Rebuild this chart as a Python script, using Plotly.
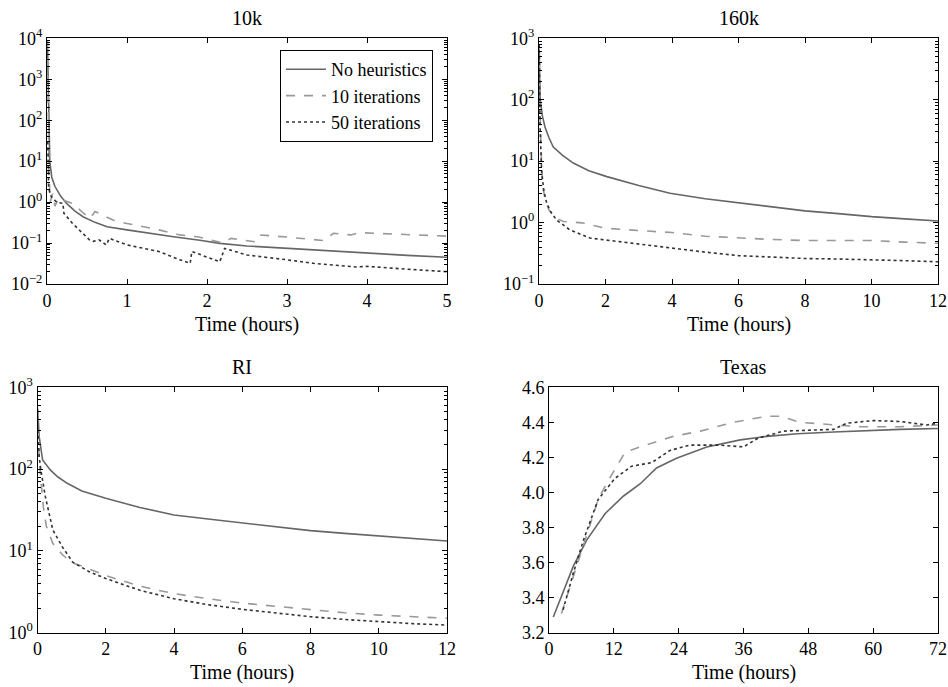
import plotly.graph_objects as go

# ---------------- data ----------------
series_names = ["No heuristics", "10 iterations", "50 iterations"]

# 10k
k10_none_x = [0.005, 0.015, 0.025, 0.035, 0.06, 0.1, 0.17, 0.245, 0.35, 0.45, 0.6, 0.75, 1.0, 1.3, 1.58, 1.91, 2.16, 2.5, 3.0, 3.5, 4.0, 4.5, 5.0]
k10_none_y = [9000, 500, 40, 9.8, 4.0, 2.4, 1.4, 0.93, 0.6, 0.44, 0.32, 0.25, 0.21, 0.17, 0.143, 0.117, 0.098, 0.085, 0.074, 0.064, 0.056, 0.05, 0.045]
k10_h10_x = [0.005, 0.015, 0.025, 0.04, 0.07, 0.1, 0.15, 0.2, 0.32, 0.45, 0.54, 0.6, 0.7, 0.83, 1.0, 1.4, 1.66, 1.9, 2.2, 2.3, 2.6, 2.66, 3.0, 3.46, 3.58, 3.8, 3.9, 4.3, 5.0]
k10_h10_y = [9000, 300, 5, 1.0, 1.6, 0.8, 1.3, 1.12, 0.93, 0.55, 0.4, 0.59, 0.48, 0.36, 0.3, 0.21, 0.158, 0.14, 0.1, 0.13, 0.107, 0.158, 0.14, 0.115, 0.173, 0.158, 0.18, 0.165, 0.147]
k10_h50_x = [0.01, 0.02, 0.04, 0.07, 0.12, 0.2, 0.21, 0.32, 0.45, 0.53, 0.58, 0.65, 0.74, 0.78, 1.0, 1.4, 1.66, 1.79, 1.81, 2.16, 2.22, 2.5, 3.0, 3.33, 3.87, 4.0, 4.5, 5.0]
k10_h50_y = [30, 2.4, 1.5, 1.24, 1.0, 0.93, 0.54, 0.3, 0.17, 0.12, 0.11, 0.12, 0.09, 0.13, 0.09, 0.062, 0.039, 0.032, 0.062, 0.035, 0.074, 0.051, 0.039, 0.032, 0.026, 0.027, 0.023, 0.02]

# 160k
k160_none_x = [0.005, 0.03, 0.1, 0.18, 0.3, 0.43, 0.7, 1.03, 1.5, 2.04, 3.0, 3.94, 5.0, 6.0, 7.0, 8.0, 9.0, 10.0, 11.0, 12.0]
k160_none_y = [800, 110, 55, 36, 24, 17, 12.5, 9.3, 7.0, 5.6, 4.0, 3.0, 2.45, 2.1, 1.8, 1.55, 1.4, 1.25, 1.15, 1.06]
k160_h10_x = [0.005, 0.03, 0.08, 0.13, 0.2, 0.3, 0.5, 0.73, 1.3, 2.0, 3.0, 4.0, 5.0, 6.0, 7.0, 8.0, 9.0, 10.0, 11.0, 12.0]
k160_h10_y = [800, 60, 8, 3.4, 2.2, 1.6, 1.2, 1.04, 0.99, 0.81, 0.74, 0.69, 0.6, 0.56, 0.53, 0.51, 0.51, 0.51, 0.48, 0.46]
k160_h50_x = [0.005, 0.03, 0.08, 0.15, 0.23, 0.35, 0.53, 0.93, 1.53, 2.0, 3.0, 4.0, 5.0, 6.0, 7.0, 8.0, 9.0, 10.0, 11.0, 12.0]
k160_h50_y = [800, 40, 6.4, 3.2, 2.1, 1.5, 1.1, 0.76, 0.56, 0.52, 0.44, 0.38, 0.33, 0.29, 0.275, 0.26, 0.255, 0.25, 0.24, 0.23]

# RI
ri_none_x = [0.005, 0.05, 0.15, 0.38, 0.6, 0.87, 1.3, 2.0, 3.0, 4.0, 5.0, 6.0, 7.0, 8.0, 9.0, 10.0, 11.0, 12.0]
ri_none_y = [550, 247, 129, 97, 80, 67, 54, 44, 34, 27.5, 24.5, 22, 19.8, 17.7, 16.4, 15.2, 14.2, 13.2]
ri_h10_x = [0.005, 0.05, 0.1, 0.17, 0.26, 0.45, 0.74, 1.0, 1.23, 2.0, 3.0, 4.0, 5.0, 6.0, 7.0, 8.0, 9.0, 10.0, 11.0, 12.0]
ri_h10_y = [500, 130, 73, 35, 20, 12.3, 8.9, 7.2, 6.7, 5.0, 3.7, 3.0, 2.6, 2.3, 2.1, 1.9, 1.75, 1.64, 1.57, 1.5]
ri_h50_x = [0.005, 0.05, 0.1, 0.23, 0.45, 0.74, 1.03, 1.5, 2.0, 3.0, 4.0, 5.0, 6.0, 7.0, 8.0, 9.0, 10.0, 11.0, 12.0]
ri_h50_y = [300, 140, 97, 46, 18, 11, 7.3, 5.6, 4.6, 3.3, 2.6, 2.2, 1.93, 1.73, 1.57, 1.45, 1.36, 1.29, 1.24]

# Texas
tx_none_x = [0.8, 4.5, 7.0, 10.4, 13.8, 16.9, 19.9, 23.6, 29.2, 35.4, 40.3, 46.0, 52.7, 59.4, 65.0, 72.0]
tx_none_y = [3.29, 3.58, 3.73, 3.88, 3.98, 4.05, 4.14, 4.195, 4.26, 4.30, 4.32, 4.335, 4.345, 4.355, 4.36, 4.365]
tx_h10_x = [2.3, 4.5, 7.0, 9.1, 11.0, 14.1, 16.9, 23.0, 28.0, 34.1, 40.3, 42.8, 46.5, 52.7, 57.6, 65.0, 72.0]
tx_h10_y = [3.31, 3.52, 3.75, 3.96, 4.07, 4.23, 4.26, 4.32, 4.35, 4.40, 4.435, 4.435, 4.40, 4.385, 4.375, 4.375, 4.385]
tx_h50_x = [2.6, 4.5, 6.4, 9.1, 12.2, 15.3, 19.0, 22.4, 26.1, 31.6, 36.0, 38.7, 43.4, 52.7, 55.1, 60.0, 65.0, 69.9, 72.0]
tx_h50_y = [3.33, 3.54, 3.73, 3.96, 4.08, 4.15, 4.17, 4.24, 4.27, 4.27, 4.26, 4.31, 4.35, 4.36, 4.395, 4.41, 4.405, 4.385, 4.395]

panel_titles = ["10k", "160k", "RI", "Texas"]
x_title = "Time (hours)"

# ---------------- styling ----------------
W, H = 948, 687
FONT = "Liberation Serif"
TICK_SIZE = 18
TITLE_SIZE = 20
styles = [
    dict(color="#666666", width=1.6, dash="solid"),
    dict(color="#999999", width=1.6, dash="dash"),
    dict(color="#333333", width=1.6, dash="dot"),
]

# plot boxes in window pixels: (left, right, top, bottom)
boxes = [
    (47, 447, 38.3, 284),
    (539, 938, 38.3, 284),
    (37.5, 447, 387.3, 632.7),
    (549, 938, 387.3, 632.7),
]

def px(xw):   # window x -> paper fraction
    return xw / W

def py(yw):   # window y -> paper fraction
    return 1 - yw / H

panels = [
    [(k10_none_x, k10_none_y), (k10_h10_x, k10_h10_y), (k10_h50_x, k10_h50_y)],
    [(k160_none_x, k160_none_y), (k160_h10_x, k160_h10_y), (k160_h50_x, k160_h50_y)],
    [(ri_none_x, ri_none_y), (ri_h10_x, ri_h10_y), (ri_h50_x, ri_h50_y)],
    [(tx_none_x, tx_none_y), (tx_h10_x, tx_h10_y), (tx_h50_x, tx_h50_y)],
]

fig = go.Figure()
for p, data in enumerate(panels):
    sfx = "" if p == 0 else str(p + 1)
    for s, (xs, ys) in enumerate(data):
        fig.add_trace(go.Scatter(
            x=xs, y=ys, mode="lines", name=series_names[s],
            line=styles[s], showlegend=(p == 0),
            xaxis="x" + sfx, yaxis="y" + sfx,
        ))

def sup_label(e):
    return "10<sup>" + (str(e) if e >= 0 else "\u2212" + str(-e)) + "</sup>"

axis_common = dict(
    showline=True, linecolor="black", linewidth=1, mirror="allticks",
    ticks="inside", ticklen=5, tickcolor="black", tickwidth=1,
    showgrid=False, zeroline=False, automargin=False,
    tickfont=dict(family=FONT, size=TICK_SIZE, color="black"),
)

x_ranges = [[0, 5], [0, 12], [0, 12], [0, 72]]
x_dticks = [1, 2, 2, 12]
y_log_ranges = [[-2, 4], [-1, 3], [0, 3], None]

layout = dict(
    template="none",
    width=W, height=H, margin=dict(l=0, r=0, t=0, b=0, autoexpand=False),
    paper_bgcolor="white", plot_bgcolor="white",
    font=dict(family=FONT, size=TICK_SIZE, color="black"),
    legend=dict(
        x=px(433), y=py(50), xanchor="right", yanchor="top",
        bordercolor="black", borderwidth=1, bgcolor="white",
        font=dict(family=FONT, size=18, color="black"),
        tracegroupgap=0, itemwidth=40,
    ),
    annotations=[],
)

for p in range(4):
    l, r, t, b = boxes[p]
    sfx = "" if p == 0 else str(p + 1)
    xa = dict(axis_common, domain=[px(l), px(r)], range=x_ranges[p],
              dtick=x_dticks[p], tick0=0, anchor="y" + sfx)
    if y_log_ranges[p] is not None:
        lo, hi = y_log_ranges[p]
        exps = list(range(lo, hi + 1))
        minor_vals = [k * 10 ** e for e in exps[:-1] for k in range(2, 10)]
        ya = dict(axis_common, type="log", range=[lo, hi],
                  tickmode="array",
                  tickvals=[10 ** e for e in exps],
                  ticktext=[sup_label(e) for e in exps],
                  minor=dict(tickmode="array", tickvals=minor_vals,
                             ticks="inside", ticklen=3, tickcolor="black",
                             tickwidth=1, showgrid=False),
                  domain=[py(b), py(t)], anchor="x" + sfx)
    else:
        ya = dict(axis_common, range=[3.2, 4.6], dtick=0.2, tick0=3.2,
                  tickformat=".1f",
                  domain=[py(b), py(t)], anchor="x" + sfx)
    layout["xaxis" + sfx] = xa
    layout["yaxis" + sfx] = ya
    cx = px((l + r) / 2)
    layout["annotations"].append(dict(
        text=panel_titles[p], x=cx, y=py(t - 20), xref="paper", yref="paper",
        xanchor="center", yanchor="middle", showarrow=False,
        font=dict(family=FONT, size=TITLE_SIZE, color="black")))
    layout["annotations"].append(dict(
        text=x_title, x=cx, y=py(b + 40), xref="paper", yref="paper",
        xanchor="center", yanchor="middle", showarrow=False,
        font=dict(family=FONT, size=TITLE_SIZE, color="black")))

fig.update_layout(**layout)
# remove the browser's default page margin so the figure fills the window
fig.write_html(
    "out.html",
    config={"displayModeBar": False},
    post_script="document.body.style.margin='0';"
                "document.body.style.overflow='hidden';",
)
